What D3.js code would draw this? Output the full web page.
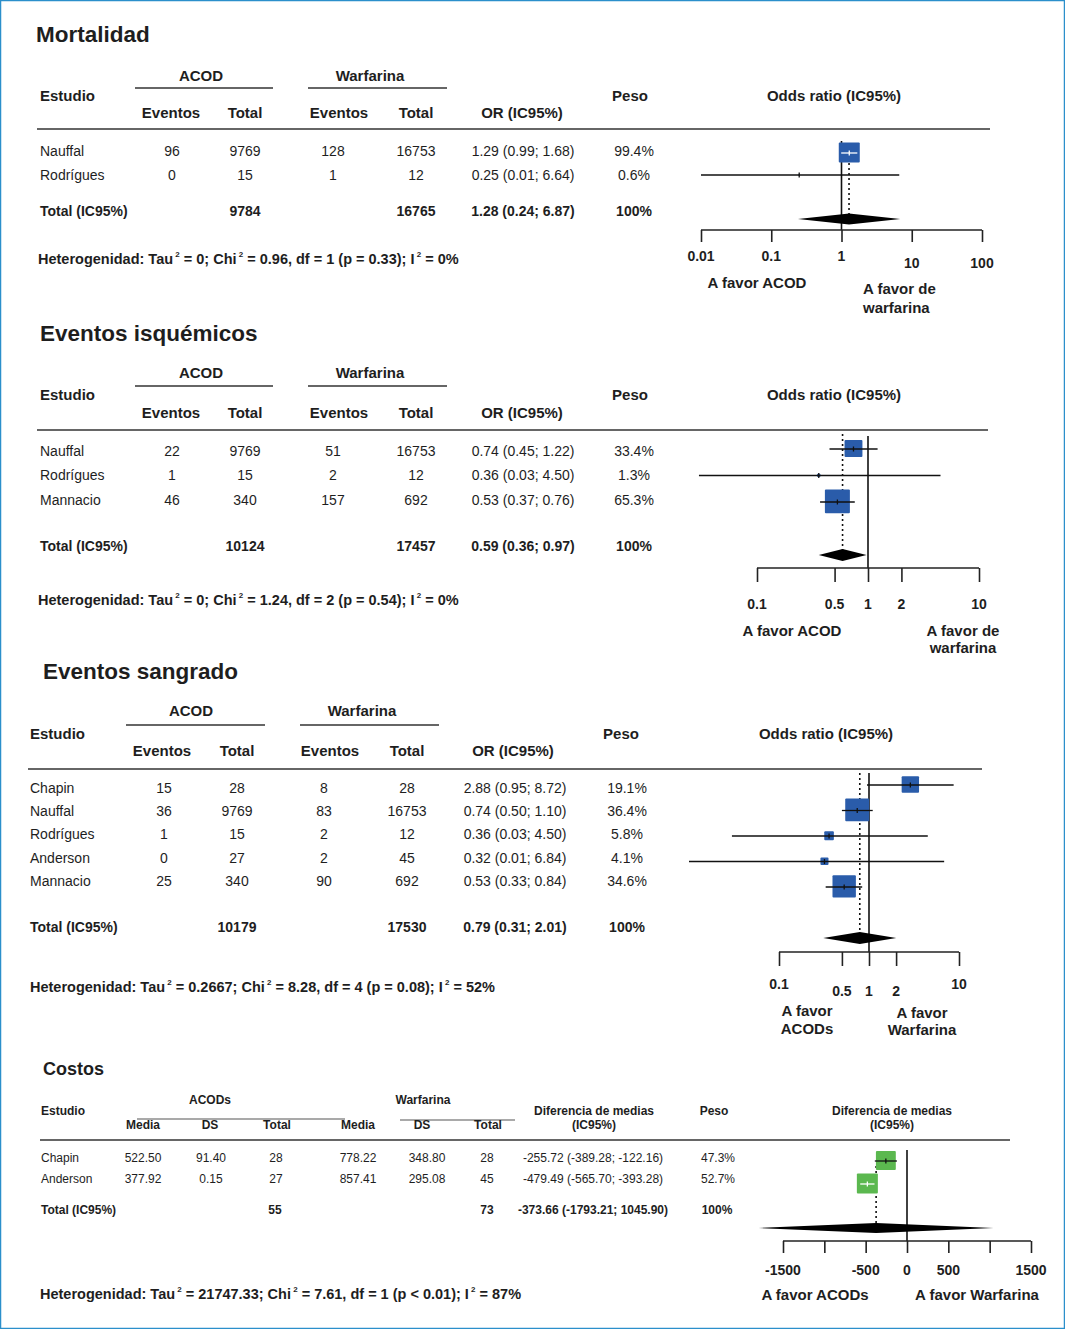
<!DOCTYPE html>
<html>
<head>
<meta charset="utf-8">
<script src="https://cdn.jsdelivr.net/npm/d3@7"></script>
<style>
body{margin:0;background:#fff}
svg{display:block;font-family:"Liberation Sans",Arial,sans-serif}
</style>
</head>
<body>
<svg></svg>
<script>
// ---- Mortalidad
var mortStudies=["Nauffal","Rodrígues"];
var mortAcodEv=[96,0], mortAcodN=[9769,15];
var mortWarfEv=[128,1], mortWarfN=[16753,12];
var mortOR=[1.29,0.25], mortLo=[0.99,0.01], mortHi=[1.68,6.64];
var mortPeso=[99.4,0.6];
var mortTotals=[9784,16765], mortPooled=[1.28,0.24,6.87];
var mortTicks=[0.01,0.1,1,10,100];
var mortHet=["0","0.96","1","= 0.33","0%"];

// ---- Eventos isquémicos
var isqStudies=["Nauffal","Rodrígues","Mannacio"];
var isqAcodEv=[22,1,46], isqAcodN=[9769,15,340];
var isqWarfEv=[51,2,157], isqWarfN=[16753,12,692];
var isqOR=[0.74,0.36,0.53], isqLo=[0.45,0.03,0.37], isqHi=[1.22,4.50,0.76];
var isqPeso=[33.4,1.3,65.3];
var isqTotals=[10124,17457], isqPooled=[0.59,0.36,0.97];
var isqTicks=[0.1,0.5,1,2,10];
var isqHet=["0","1.24","2","= 0.54","0%"];

// ---- Eventos sangrado
var sanStudies=["Chapin","Nauffal","Rodrígues","Anderson","Mannacio"];
var sanAcodEv=[15,36,1,0,25], sanAcodN=[28,9769,15,27,340];
var sanWarfEv=[8,83,2,2,90], sanWarfN=[28,16753,12,45,692];
var sanOR=[2.88,0.74,0.36,0.32,0.53], sanLo=[0.95,0.50,0.03,0.01,0.33], sanHi=[8.72,1.10,4.50,6.84,0.84];
var sanPeso=[19.1,36.4,5.8,4.1,34.6];
var sanTotals=[10179,17530], sanPooled=[0.79,0.31,2.01];
var sanTicks=[0.1,0.5,1,2,10];
var sanHet=["0.2667","8.28","4","= 0.08","52%"];

// ---- Costos
var cosStudies=["Chapin","Anderson"];
var cosAcodMedia=[522.50,377.92], cosAcodDS=[91.40,0.15], cosAcodN=[28,27];
var cosWarfMedia=[778.22,857.41], cosWarfDS=[348.80,295.08], cosWarfN=[28,45];
var cosMD=[-255.72,-479.49], cosLo=[-389.28,-565.70], cosHi=[-122.16,-393.28];
var cosPeso=[47.3,52.7];
var cosTotals=[55,73], cosPooled=[-373.66,-1793.21,1045.90];
var cosTicks=[-1500,-1000,-500,0,500,1000,1500];
var cosTickLabels=[-1500,-500,0,500,1500];
var cosHet=["21747.33","7.61","1","< 0.01","87%"];

var W=1065, H=1329, ink="#1e1e1e";
var blue="#2a5caa", green="#5bb84f";
// plain hyphen for negatives, like the source table
var f2=d3.formatLocale({decimal:".",thousands:",",grouping:[3],currency:["",""],minus:"-"}).format(".2f");

var svg=d3.select("svg").attr("width",W).attr("height",H);
svg.append("rect").attr("x",0.5).attr("y",0.5).attr("width",W-1).attr("height",H-1)
  .attr("fill","#fff").attr("stroke","#2b8fcb").attr("stroke-width",1.5);

function txt(g,x,y,s,o){
  o=o||{};
  return g.append("text").attr("x",x).attr("y",y).attr("dy","0.35em")
    .attr("text-anchor",o.anchor||"middle")
    .attr("font-size",o.size||14)
    .attr("font-weight",o.bold?"bold":"normal")
    .attr("fill",ink).text(s);
}
function hline(g,x1,x2,y,w,col){
  g.append("line").attr("x1",x1).attr("x2",x2).attr("y1",y).attr("y2",y)
    .attr("stroke",col||"#333").attr("stroke-width",w||1.5);
}
function het(g,x,y,vals,size){
  var t=g.append("text").attr("x",x).attr("y",y).attr("dy","0.35em")
    .attr("font-size",size).attr("font-weight","bold").attr("fill",ink);
  var parts=["Heterogenidad: Tau"," = "+vals[0]+"; Chi",
    " = "+vals[1]+", df = "+vals[2]+" (p "+vals[3]+"); I"," = "+vals[4]];
  parts.forEach(function(p,i){
    t.append("tspan").text(p);
    if(i<parts.length-1)
      t.append("tspan").attr("font-size",size*0.55).attr("baseline-shift","90%").text(" 2");
  });
}

// forest drawing shared by all panels
function forest(g,o){
  var x=o.x, y=o.y;
  var wmax=d3.max(o.peso);
  var side=d3.scaleSqrt().domain([0,wmax]).range([0,o.boxMax]);
  // reference line at null effect
  g.append("line").attr("x1",x(o.nullV)).attr("x2",x(o.nullV))
    .attr("y1",o.vTop).attr("y2",o.axisY).attr("stroke","#111").attr("stroke-width",1.6);
  // pooled dotted line
  g.append("line").attr("x1",x(o.pooled[0])).attr("x2",x(o.pooled[0]))
    .attr("y1",o.dTop).attr("y2",o.diamondY).attr("stroke","#111")
    .attr("stroke-width",1.6).attr("stroke-dasharray","2,3");
  o.est.forEach(function(e,i){
    var cy=y(i), s=side(o.peso[i]);
    var x1=x(o.lo[i]), x2=x(o.hi[i]), cx=x(e);
    var inside=(x1>=cx-s/2 && x2<=cx+s/2);
    g.append("rect").attr("x",cx-s/2).attr("y",cy-s/2).attr("width",s).attr("height",s*0.95)
      .attr("fill",o.color).attr("rx",1);
    var col=inside?"#fff":"#111";
    g.append("line").attr("x1",x1).attr("x2",x2).attr("y1",cy).attr("y2",cy)
      .attr("stroke",col).attr("stroke-width",1.3);
    g.append("line").attr("x1",cx).attr("x2",cx).attr("y1",cy-2.5).attr("y2",cy+2.5)
      .attr("stroke",col).attr("stroke-width",1.3);
  });
  var p=o.pooled, dy=o.diamondY, hh=o.diamondH/2;
  g.append("path").attr("d",d3.line()([[x(p[1]),dy],[x(p[0]),dy-hh],[x(p[2]),dy],[x(p[0]),dy+hh]])+"Z")
    .attr("fill","#000");
  var ax=g.append("g").attr("transform","translate(0,"+o.axisY+")")
    .call(d3.axisBottom(x).tickValues(o.ticks).tickSize(o.tickLen).tickFormat(""));
  ax.select(".domain").attr("stroke","#222").attr("stroke-width",1.6)
    .attr("d","M"+x(o.ticks[0])+",0H"+x(o.ticks[o.ticks.length-1]));
  ax.selectAll(".tick line").attr("stroke","#222").attr("stroke-width",1.6);
  (o.labels||o.ticks).forEach(function(t){
    txt(g,x(t),o.labelY+(o.labelDy?o.labelDy(t):0),String(t),{bold:true,size:o.labelSize||14});
  });
  o.favor.forEach(function(f){
    f.lines.forEach(function(l,k){
      txt(g,f.x,f.y[k],l,{bold:true,anchor:f.anchor||"middle",size:o.favorSize||15});
    });
  });
}

function orPanel(o){
  var g=svg.append("g").attr("transform","translate("+o.dx+",0)");
  var c=o.cols, L=o.L, hb={bold:true,size:15};
  txt(g,o.titleX,L.title,o.title,{bold:true,size:22.5,anchor:"start"});
  txt(g,c.acodH,L.group,"ACOD",hb);
  txt(g,c.warfH,L.group,"Warfarina",hb);
  hline(g,c.acodL[0],c.acodL[1],L.ul,1.3);
  hline(g,c.warfL[0],c.warfL[1],L.ul,1.3);
  txt(g,c.name,L.est,"Estudio",{bold:true,size:15,anchor:"start"});
  txt(g,c.ev1H,L.sub,"Eventos",hb);
  txt(g,c.tot1,L.sub,"Total",hb);
  txt(g,c.ev2H,L.sub,"Eventos",hb);
  txt(g,c.tot2,L.sub,"Total",hb);
  txt(g,c.orH,L.sub,"OR (IC95%)",hb);
  txt(g,c.pesoH,L.est,"Peso",hb);
  txt(g,c.oddsH,L.est,"Odds ratio (IC95%)",hb);
  hline(g,L.lineX[0],L.lineX[1],L.line,1.6);
  var ry=d3.scalePoint().domain(d3.range(o.studies.length)).range([L.row0,L.rowN]);
  o.studies.forEach(function(s,i){
    var y=ry(i);
    txt(g,c.name,y,s,{anchor:"start"});
    txt(g,c.ev1,y,o.ae[i]); txt(g,c.tot1,y,o.an[i]);
    txt(g,c.ev2,y,o.we[i]); txt(g,c.tot2,y,o.wn[i]);
    txt(g,c.or,y,f2(o.est[i])+" ("+f2(o.lo[i])+"; "+f2(o.hi[i])+")");
    txt(g,c.peso,y,o.peso[i]+"%");
  });
  txt(g,c.name,L.total,"Total (IC95%)",{bold:true,anchor:"start"});
  txt(g,c.tot1,L.total,o.totals[0],{bold:true});
  txt(g,c.tot2,L.total,o.totals[1],{bold:true});
  txt(g,c.or,L.total,f2(o.pooled[0])+" ("+f2(o.pooled[1])+"; "+f2(o.pooled[2])+")",{bold:true});
  txt(g,c.peso,L.total,"100%",{bold:true});
  het(g,L.hetX,L.het,o.het,14.5);
  var F=o.F;
  var x=d3.scaleLog().domain([o.ticks[0],o.ticks[o.ticks.length-1]]).range(F.xr);
  var fy=d3.scalePoint().domain(d3.range(o.studies.length)).range([F.row0,F.rowN]);
  forest(svg,{x:x,y:fy,nullV:1,est:o.est,lo:o.lo,hi:o.hi,peso:o.peso,pooled:o.pooled,
    ticks:o.ticks,color:blue,boxMax:F.boxMax,vTop:F.vTop,dTop:F.dTop,axisY:F.axisY,
    diamondY:F.diamondY,diamondH:F.diamondH,tickLen:F.tickLen,labelY:F.labelY,
    labelDy:F.labelDy,favor:F.favor});
}

var cols1={name:40,acodH:201,warfH:370,acodL:[135,273],warfL:[308,447],ev1H:171,ev2H:339,
  ev1:172,tot1:245,ev2:333,tot2:416,or:523,orH:522,peso:634,pesoH:630,oddsH:834};
var cols3={name:38,acodH:199,warfH:370,acodL:[134,273],warfL:[308,447],ev1H:170,ev2H:338,
  ev1:172,tot1:245,ev2:332,tot2:415,or:523,orH:521,peso:635,pesoH:629,oddsH:834};

orPanel({dx:0,title:"Mortalidad",titleX:36,cols:cols1,
  studies:mortStudies,ae:mortAcodEv,an:mortAcodN,we:mortWarfEv,wn:mortWarfN,
  est:mortOR,lo:mortLo,hi:mortHi,peso:mortPeso,totals:mortTotals,pooled:mortPooled,
  ticks:mortTicks,het:mortHet,
  L:{title:34,group:76,ul:88,est:96,sub:113,line:129,lineX:[37,990],row0:151,rowN:175,total:211,het:259,hetX:38},
  F:{xr:[701,982],row0:153,rowN:175,boxMax:21,vTop:141,dTop:158,axisY:230,diamondY:219,diamondH:11,
    tickLen:12,labelY:256,labelDy:function(t){return t>1?7:0;},
    favor:[{lines:["A favor ACOD"],x:757,y:[283]},
           {lines:["A favor de","warfarina"],x:863,y:[289,308],anchor:"start"}]}
});

orPanel({dx:0,title:"Eventos isquémicos",titleX:40,cols:cols1,
  studies:isqStudies,ae:isqAcodEv,an:isqAcodN,we:isqWarfEv,wn:isqWarfN,
  est:isqOR,lo:isqLo,hi:isqHi,peso:isqPeso,totals:isqTotals,pooled:isqPooled,
  ticks:isqTicks,het:isqHet,
  L:{title:333,group:373,ul:386,est:395,sub:413,line:430,lineX:[37,988],row0:451,rowN:500,total:546,het:600,hetX:38},
  F:{xr:[757,979],row0:449,rowN:502,boxMax:25,vTop:436,dTop:434,axisY:568,diamondY:555,diamondH:12,
    tickLen:14,labelY:604,
    favor:[{lines:["A favor ACOD"],x:792,y:[631]},
           {lines:["A favor de","warfarina"],x:963,y:[631,648]}]}
});

orPanel({dx:-8,title:"Eventos sangrado",titleX:51,cols:cols3,
  studies:sanStudies,ae:sanAcodEv,an:sanAcodN,we:sanWarfEv,wn:sanWarfN,
  est:sanOR,lo:sanLo,hi:sanHi,peso:sanPeso,totals:sanTotals,pooled:sanPooled,
  ticks:sanTicks,het:sanHet,
  L:{title:671,group:711,ul:725,est:734,sub:751,line:769,lineX:[36,990],row0:788,rowN:881,total:927,het:987,hetX:38},
  F:{xr:[779,959],row0:785,rowN:887,boxMax:24,vTop:773,dTop:773,axisY:952,diamondY:938,diamondH:12,
    tickLen:14,labelY:984,labelDy:function(t){return (t>0.1&&t<10)?7:0;},
    favor:[{lines:["A favor","ACODs"],x:807,y:[1011,1029]},
           {lines:["A favor","Warfarina"],x:922,y:[1013,1030]}]}
});

// ---- Costos panel
(function(){
  var g=svg.append("g");
  txt(g,43,1069,"Costos",{bold:true,size:18,anchor:"start"});
  txt(g,210,1100,"ACODs",{bold:true,size:12});
  txt(g,423,1100,"Warfarina",{bold:true,size:12});
  hline(g,137,345,1119,1.2,"#555");
  hline(g,400,515,1120,1.2,"#555");
  txt(g,41,1111,"Estudio",{bold:true,size:12,anchor:"start"});
  var sub=[[143,"Media"],[210,"DS"],[277,"Total"],[358,"Media"],[422,"DS"],[488,"Total"]];
  sub.forEach(function(s){txt(g,s[0],1125,s[1],{bold:true,size:12});});
  txt(g,594,1111,"Diferencia de medias",{bold:true,size:12});
  txt(g,594,1125,"(IC95%)",{bold:true,size:12});
  txt(g,714,1111,"Peso",{bold:true,size:12});
  txt(g,892,1111,"Diferencia de medias",{bold:true,size:12});
  txt(g,892,1125,"(IC95%)",{bold:true,size:12});
  hline(g,40,1010,1140,1.4);
  var ry=d3.scalePoint().domain(d3.range(cosStudies.length)).range([1158,1179]);
  cosStudies.forEach(function(s,i){
    var y=ry(i), o={size:12};
    txt(g,41,y,s,{size:12,anchor:"start"});
    txt(g,143,y,f2(cosAcodMedia[i]),o); txt(g,211,y,f2(cosAcodDS[i]),o); txt(g,276,y,cosAcodN[i],o);
    txt(g,358,y,f2(cosWarfMedia[i]),o); txt(g,427,y,f2(cosWarfDS[i]),o); txt(g,487,y,cosWarfN[i],o);
    txt(g,593,y,f2(cosMD[i])+" ("+f2(cosLo[i])+"; "+f2(cosHi[i])+")",o);
    txt(g,718,y,cosPeso[i]+"%",o);
  });
  var b={size:12,bold:true};
  txt(g,41,1210,"Total (IC95%)",{size:12,bold:true,anchor:"start"});
  txt(g,275,1210,cosTotals[0],b); txt(g,487,1210,cosTotals[1],b);
  txt(g,593,1210,f2(cosPooled[0])+" ("+f2(cosPooled[1])+"; "+f2(cosPooled[2])+")",b);
  txt(g,717,1210,"100%",b);
  het(g,40,1294,cosHet,14.5);
  var x=d3.scaleLinear().domain([-1500,1500]).range([783,1031]);
  var fy=d3.scalePoint().domain(d3.range(cosStudies.length)).range([1161,1184]);
  forest(svg,{x:x,y:fy,nullV:0,est:cosMD,lo:cosLo,hi:cosHi,peso:cosPeso,pooled:cosPooled,
    ticks:cosTicks,labels:cosTickLabels,color:green,boxMax:21,vTop:1150,dTop:1166,axisY:1241,
    diamondY:1228,diamondH:10,tickLen:12,labelY:1270,
    favor:[{lines:["A favor ACODs"],x:815,y:[1295]},{lines:["A favor Warfarina"],x:977,y:[1295]}]});
})();
</script>
</body>
</html>
